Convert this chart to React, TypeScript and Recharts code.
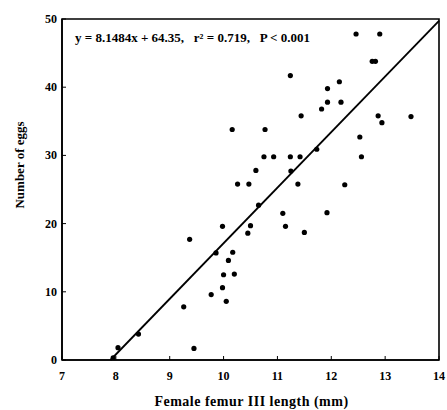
import { ScatterChart, Scatter, XAxis, YAxis, ReferenceLine, ReferenceArea } from 'recharts';

// femur III length (mm) against number of eggs, one entry per female
const femurLength = [
  8.04, 7.95, 8.42, 9.45, 9.26, 9.37, 9.77, 10.05, 9.98, 10.0, 10.2, 10.09, 10.17, 9.86,
  9.98, 10.26, 10.5, 10.45, 10.16, 10.47, 10.6, 10.65, 10.75, 10.93, 10.77, 11.1, 11.15,
  11.25, 11.24, 11.24, 11.42, 11.38, 11.5, 11.44, 11.73, 11.82, 11.93, 11.93, 11.92, 12.18,
  12.15, 12.25, 12.46, 12.53, 12.56, 12.76, 12.82, 12.9, 12.87, 12.94, 13.48,
];
const eggCount = [
  1.8, 0.3, 3.8, 1.7, 7.8, 17.7, 9.6, 8.6, 10.6, 12.5, 12.6, 14.6, 15.8, 15.7,
  19.6, 25.8, 19.7, 18.6, 33.8, 25.8, 27.8, 22.7, 29.8, 29.8, 33.8, 21.5, 19.6,
  27.7, 29.8, 41.7, 29.8, 25.8, 18.7, 35.8, 30.9, 36.8, 37.8, 39.8, 21.6, 37.8,
  40.8, 25.7, 47.8, 32.7, 29.8, 43.8, 43.8, 47.8, 35.8, 34.8, 35.7,
];

const xTicks = [7, 8, 9, 10, 11, 12, 13, 14];
const yTicks = [0, 10, 20, 30, 40, 50];

// end points of the fitted line
const fitX = [7.9, 14];
const fitY = [0, 49.73];

const fitLabel = 'y = 8.1484x + 64.35,   r\u00b2 = 0.719,   P < 0.001';

const FONT = "'Liberation Serif', 'Times New Roman', serif";

function XTick(props: any) {
  return (
    <text
      x={props.x}
      y={props.y}
      dy={11}
      textAnchor="middle"
      fontFamily={FONT}
      fontSize={12}
      fontWeight={700}
      fill="#000"
    >
      {props.payload.value}
    </text>
  );
}

function YTick(props: any) {
  return (
    <text
      x={props.x}
      y={props.y}
      dy={4}
      textAnchor="end"
      fontFamily={FONT}
      fontSize={12}
      fontWeight={700}
      fill="#000"
    >
      {props.payload.value}
    </text>
  );
}

export default function App() {
  const points = femurLength.map((x, i) => ({ x, y: eggCount[i] }));

  return (
    <div
      style={{
        position: 'absolute',
        left: 0,
        top: 0,
        width: 447,
        height: 410,
        background: '#fff',
        fontFamily: FONT,
        color: '#000',
      }}
    >
      <ScatterChart width={447} height={410} margin={{ top: 19, right: 8, bottom: 20, left: 0 }}>
        <XAxis
          type="number"
          dataKey="x"
          domain={[7, 14]}
          ticks={xTicks}
          height={30}
          tick={<XTick />}
          tickSize={-4}
          tickMargin={13}
          axisLine={{ stroke: '#000', strokeWidth: 1.6 }}
          tickLine={{ stroke: '#000', strokeWidth: 1 }}
          allowDataOverflow
        />
        <YAxis
          type="number"
          dataKey="y"
          domain={[0, 50]}
          ticks={yTicks}
          width={62}
          tick={<YTick />}
          tickSize={-4}
          tickMargin={9}
          axisLine={{ stroke: '#000', strokeWidth: 1.6 }}
          tickLine={{ stroke: '#000', strokeWidth: 1 }}
          allowDataOverflow
        />
        <ReferenceArea x1={7} x2={14} y1={0} y2={50} fill="none" stroke="#000" strokeWidth={1.6} />
        <ReferenceLine
          segment={[
            { x: fitX[0], y: fitY[0] },
            { x: fitX[1], y: fitY[1] },
          ]}
          stroke="#000"
          strokeWidth={1.8}
          ifOverflow="visible"
        />
        <Scatter
          data={points}
          fill="#000"
          isAnimationActive={false}
          shape={(props: any) => <circle cx={props.cx} cy={props.cy} r={2.6} fill="#000" />}
        />
      </ScatterChart>

      <div
        style={{
          position: 'absolute',
          left: 75,
          top: 31,
          fontSize: 13,
          lineHeight: '14px',
          fontWeight: 700,
          whiteSpace: 'pre',
        }}
      >
        {fitLabel}
      </div>

      <div
        style={{
          position: 'absolute',
          left: 0,
          width: 447,
          top: 394,
          textAlign: 'center',
          paddingLeft: 56,
          boxSizing: 'border-box',
          fontSize: 14,
          letterSpacing: 0.5,
          lineHeight: '16px',
          fontWeight: 700,
        }}
      >
        Female femur III length (mm)
      </div>

      <div
        style={{
          position: 'absolute',
          left: 20,
          top: 165,
          transform: 'translate(-50%, -50%) rotate(-90deg)',
          fontSize: 13,
          lineHeight: '16px',
          fontWeight: 700,
          whiteSpace: 'nowrap',
        }}
      >
        Number of eggs
      </div>
    </div>
  );
}
